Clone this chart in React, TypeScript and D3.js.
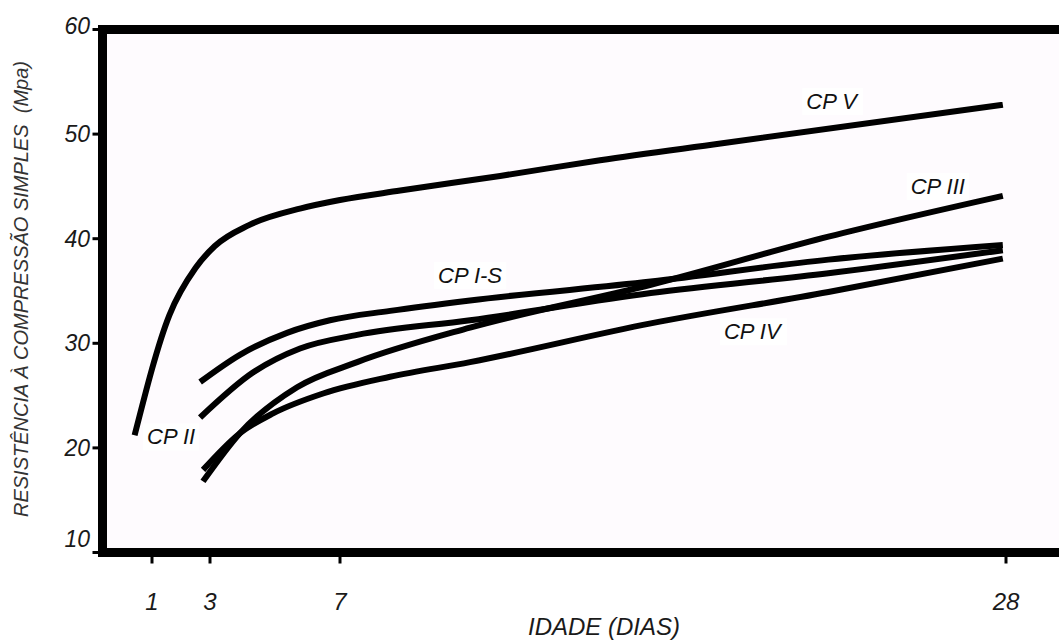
import React, { useRef, useEffect } from 'react'
import { select, scaleLinear, line, curveMonotoneX } from 'd3'

// idade (dias) em que cada ponto foi lido
const cpVDays = [0.4, 1.6, 2.5, 3.15, 4.2, 5.8, 7, 8.9, 12.05, 15.2, 19, 27.9]
const cpVValues = [21.2, 32.7, 37.2, 39.3, 41.3, 42.9, 43.7, 44.6, 46.0, 47.5, 49.1, 52.8]

const cpISDays = [2.66, 3.92, 5.37, 6.69, 8.58, 11.1, 16.8, 22.4, 27.9]
const cpISValues = [26.3, 28.9, 31.0, 32.2, 33.1, 34.1, 35.9, 38.0, 39.4]

const cpIIDays = [2.66, 4.32, 5.77, 7.54, 11.1, 16.8, 22.4, 27.9]
const cpIIValues = [22.9, 27.2, 29.5, 30.8, 32.2, 34.8, 36.7, 38.9]

const cpIIIDays = [2.76, 3.92, 5.68, 7.54, 11.1, 16.8, 22.4, 27.9]
const cpIIIValues = [16.8, 21.4, 25.8, 28.2, 31.5, 35.6, 40.2, 44.1]

const cpIVDays = [2.76, 3.92, 4.94, 6.48, 8.58, 11.1, 16.8, 22.4, 27.9]
const cpIVValues = [17.9, 21.4, 23.3, 25.2, 26.8, 28.2, 31.9, 34.9, 38.1]

const xTicks = [1, 3, 7, 28]
const yTicks = [10, 20, 30, 40, 50, 60]

const labelNames = ['CP V', 'CP III', 'CP I-S', 'CP IV', 'CP II']
const labelDays = [22.5, 25.85, 11.1, 20.0, 1.66]
const labelValues = [53.1, 45.0, 36.5, 31.1, 21.05]

const series = [
    { name: 'CP V', days: cpVDays, values: cpVValues },
    { name: 'CP I-S', days: cpISDays, values: cpISValues },
    { name: 'CP II', days: cpIIDays, values: cpIIValues },
    { name: 'CP III', days: cpIIIDays, values: cpIIIValues },
    { name: 'CP IV', days: cpIVDays, values: cpIVValues },
]

const FONT = "'Liberation Sans', Arial, sans-serif"

const App = () => {
    const ref = useRef<any>()

    useEffect(() => {
        const svg = select(ref.current)
        svg.selectAll('*').remove()

        // escala x não uniforme, ajustada aos ticks do desenho
        const x = scaleLinear().domain([1, 3, 7, 28]).range([152, 210, 340, 1006])
        const y = scaleLinear().domain([10, 60]).range([552.5, 29.5])

        const left = 102.5
        const top = y(60)
        const bottom = y(10)

        // fundo da área do gráfico
        svg.append('rect')
            .attr('x', left)
            .attr('y', top)
            .attr('width', 1059 - left)
            .attr('height', bottom - top)
            .attr('fill', '#fefbfe')

        // curvas
        const lineGen = line<any>()
            .x(d => x(d[0]))
            .y(d => y(d[1]))
            .curve(curveMonotoneX)

        svg.selectAll('.curve')
            .data(series)
            .join('path')
            .attr('class', 'curve')
            .attr('d', s => lineGen(s.days.map((d, i) => [d, s.values[i]])))
            .attr('fill', 'none')
            .attr('stroke', '#000')
            .attr('stroke-width', 6)
            .attr('stroke-linecap', 'butt')
            .attr('stroke-linejoin', 'round')

        // rótulos das curvas com fundo branco
        const labels = svg.selectAll('.lbl')
            .data(labelNames)
            .join('g')
            .attr('class', 'lbl')

        labels.append('text')
            .attr('x', (d, i) => x(labelDays[i]))
            .attr('y', (d, i) => y(labelValues[i]))
            .attr('text-anchor', 'middle')
            .attr('dominant-baseline', 'central')
            .attr('font-family', FONT)
            .attr('font-style', 'italic')
            .attr('font-size', 22)
            .attr('fill', '#111')
            .text(d => d)

        labels.each(function () {
            const g = select(this)
            const bb = (g.select('text').node() as any).getBBox()
            g.insert('rect', 'text')
                .attr('x', bb.x - 4)
                .attr('y', bb.y - 1)
                .attr('width', bb.width + 8)
                .attr('height', bb.height + 2)
                .attr('fill', '#fff')
        })

        // moldura (sem lado direito)
        const frame = svg.append('g')
            .attr('stroke', '#000')
            .attr('stroke-width', 9)
            .attr('fill', 'none')
        frame.append('line').attr('x1', left).attr('x2', 1059).attr('y1', top).attr('y2', top)
        frame.append('line').attr('x1', left).attr('x2', 1059).attr('y1', bottom).attr('y2', bottom)
        frame.append('line').attr('x1', left).attr('x2', left).attr('y1', top - 4.5).attr('y2', bottom + 4.5)

        // ticks eixo y
        svg.selectAll('.ytick')
            .data(yTicks)
            .join('line')
            .attr('class', 'ytick')
            .attr('x1', left - 10)
            .attr('x2', left - 4)
            .attr('y1', d => y(d))
            .attr('y2', d => y(d))
            .attr('stroke', '#000')
            .attr('stroke-width', 3)

        svg.selectAll('.ylab')
            .data(yTicks)
            .join('text')
            .attr('class', 'ylab')
            .attr('x', 90)
            .attr('y', d => y(d) - (d === 10 ? 14 : d === 60 ? 4 : 0))
            .attr('text-anchor', 'end')
            .attr('dominant-baseline', 'central')
            .attr('font-family', FONT)
            .attr('font-style', 'italic')
            .attr('font-size', 23)
            .attr('fill', '#1a1a1a')
            .text(d => d)

        // ticks eixo x
        svg.selectAll('.xtick')
            .data(xTicks)
            .join('line')
            .attr('class', 'xtick')
            .attr('x1', d => x(d))
            .attr('x2', d => x(d))
            .attr('y1', bottom + 4)
            .attr('y2', bottom + 11)
            .attr('stroke', '#000')
            .attr('stroke-width', 3)

        svg.selectAll('.xlab')
            .data(xTicks)
            .join('text')
            .attr('class', 'xlab')
            .attr('x', d => x(d))
            .attr('y', 610)
            .attr('text-anchor', 'middle')
            .attr('font-family', FONT)
            .attr('font-style', 'italic')
            .attr('font-size', 24)
            .attr('fill', '#1a1a1a')
            .text(d => d)

        // títulos dos eixos
        svg.append('text')
            .attr('x', 604)
            .attr('y', 635)
            .attr('text-anchor', 'middle')
            .attr('font-family', FONT)
            .attr('font-style', 'italic')
            .attr('font-size', 24)
            .attr('fill', '#1a1a1a')
            .text('IDADE (DIAS)')

        svg.append('text')
            .attr('transform', 'translate(28,289) rotate(-90)')
            .attr('text-anchor', 'middle')
            .attr('font-family', FONT)
            .attr('font-style', 'italic')
            .attr('font-size', 20)
            .attr('fill', '#333')
            .attr('xml:space', 'preserve')
            .style('white-space', 'pre')
            .text('RESISTÊNCIA À COMPRESSÃO SIMPLES  (Mpa)')
    }, [])

    return (
        <svg
            ref={ref}
            width={1059}
            height={642}
            style={{ position: 'absolute', left: 0, top: 0, display: 'block', background: '#fff' }}
        />
    )
}

export default App
